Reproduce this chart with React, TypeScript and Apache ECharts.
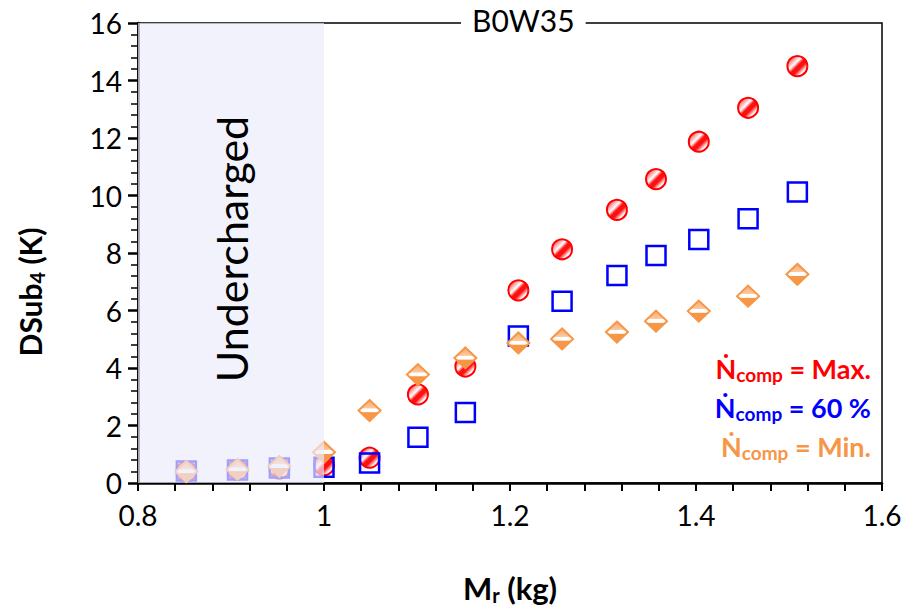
import React, { useEffect, useRef } from "react";
import * as echarts from "echarts";

const massKg = [0.852, 0.907, 0.952, 1.0, 1.049, 1.101, 1.152, 1.209, 1.256, 1.315, 1.357, 1.403, 1.456, 1.509];
const dsubMax = [0.4, 0.45, 0.5, 0.62, 0.88, 3.08, 4.05, 6.7, 8.13, 9.5, 10.57, 11.87, 13.05, 14.5];
const dsub60 = [0.42, 0.45, 0.52, 0.55, 0.7, 1.59, 2.45, 5.11, 6.32, 7.22, 7.91, 8.47, 9.19, 10.12];
const dsubMin = [0.4, 0.47, 0.58, 1.07, 2.52, 3.77, 4.35, 4.87, 5.01, 5.25, 5.63, 5.98, 6.5, 7.26];
const underchargedRange = [0.8, 1.0];
const legendItems = [
  { label: " = Max.", color: "#ff0000" },
  { label: " = 60 %", color: "#0000ff" },
  { label: " = Min.", color: "#f79646" },
];

const FONT = "Lato, 'Open Sans', sans-serif";

export default function App() {
  const ref = useRef<HTMLDivElement>(null);
  useEffect(() => {
    if (!ref.current) return;
    const chart = echarts.init(ref.current, undefined, { renderer: "svg" });
    const pts = (ys: number[]) => massKg.map((x, i) => [x, ys[i]]);
    const red = "#ff0000";
    const orange = "#f79646";
    const legendGraphics: any[] = legendItems.map((it, i) => ({
      type: "text",
      right: 44,
      top: 352 + i * 39,
      style: {
        text: `{n|Ṅ}{s|comp}{n|${it.label}}`,
        fill: it.color,
        font: `bold 27px ${FONT}`,
        rich: {
          n: { fontSize: 27, fontWeight: "bold", fill: it.color, fontFamily: FONT, lineHeight: 32 },
          s: { fontSize: 19, fontWeight: "bold", fill: it.color, fontFamily: FONT, padding: [13, 0, 0, 0], lineHeight: 32 },
        },
      },
      z: 100,
    }));
    legendGraphics.push({
      type: "text",
      x: 30,
      y: 292,
      rotation: Math.PI / 2,
      style: {
        text: "{b|DSub}{s|4}{b| (K)}",
        align: "center",
        verticalAlign: "middle",
        fill: "#000",
        rich: {
          b: { fontSize: 30, fontWeight: "bold", fill: "#000", fontFamily: FONT, lineHeight: 36 },
          s: { fontSize: 20, fontWeight: "bold", fill: "#000", fontFamily: FONT, padding: [14, 0, 0, 0], lineHeight: 36 },
        },
      },
      z: 100,
    });
    chart.setOption({
      animation: false,
      textStyle: { fontFamily: FONT },
      title: {
        text: "B0W35",
        left: 461,
        top: 4,
        padding: [1, 11],
        backgroundColor: "#fff",
        textStyle: { fontSize: 30, fontWeight: "normal", color: "#000", fontFamily: FONT },
        z: 20,
      },
      grid: {
        left: 138,
        right: 33,
        top: 23,
        bottom: 124,
        show: true,
        borderColor: "#000",
        borderWidth: 1.5,
        backgroundColor: "transparent",
      },
      xAxis: {
        type: "value",
        min: 0.8,
        max: 1.6,
        interval: 0.2,
        axisLine: { lineStyle: { color: "#000", width: 2.5 }, onZero: false },
        axisTick: { show: true, length: 8, lineStyle: { color: "#000", width: 2 } },
        minorTick: { show: true, splitNumber: 5, length: 8, lineStyle: { color: "#000", width: 2 } },
        splitLine: { show: false },
        axisLabel: {
          fontSize: 28,
          color: "#000",
          margin: 18,
          fontFamily: FONT,
          formatter: (v: number) => String(parseFloat(v.toFixed(2))),
        },
        name: "{b|M}{s|r}{b| (kg)}",
        nameLocation: "middle",
        nameGap: 88,
        nameTextStyle: {
          rich: {
            b: { fontSize: 31, fontWeight: "bold", color: "#000", fontFamily: FONT },
            s: { fontSize: 20, fontWeight: "bold", color: "#000", fontFamily: FONT, padding: [14, 0, 0, 0] },
          },
        },
      },
      yAxis: {
        type: "value",
        min: 0,
        max: 16,
        interval: 2,
        axisLine: { show: true, lineStyle: { color: "#000", width: 2.5 } },
        axisTick: { show: true, length: 10, lineStyle: { color: "#000", width: 2.5 } },
        minorTick: { show: true, splitNumber: 5, length: 7, lineStyle: { color: "#000", width: 1.5 } },
        splitLine: { show: false },
        axisLabel: { fontSize: 28, color: "#000", margin: 16, fontFamily: FONT },
      },
      graphic: legendGraphics,
      series: [
        {
          name: "Max",
          type: "scatter",
          data: pts(dsubMax),
          symbol: "circle",
          symbolSize: 20,
          z: 2,
          itemStyle: {
            borderColor: red,
            borderWidth: 2,
            opacity: 1,
            color: new echarts.graphic.LinearGradient(0, 0, 1, 1, [
              { offset: 0, color: "#ff2020" },
              { offset: 0.22, color: "#ff9090" },
              { offset: 0.38, color: "#ffffff" },
              { offset: 0.5, color: "#ff1010" },
              { offset: 0.62, color: "#ff1010" },
              { offset: 0.78, color: "#ffffff" },
              { offset: 1, color: "#ffd0d0" },
            ]),
          },
        },
        {
          name: "60",
          type: "scatter",
          data: pts(dsub60),
          symbol: "rect",
          symbolSize: 19,
          z: 3,
          itemStyle: { color: "rgba(255,255,255,0)", borderColor: "#0000ff", borderWidth: 2.5, opacity: 1 },
        },
        {
          name: "Min",
          type: "scatter",
          data: pts(dsubMin),
          symbol: "diamond",
          symbolSize: [22, 21],
          z: 4,
          itemStyle: {
            borderColor: orange,
            borderWidth: 2,
            opacity: 1,
            color: new echarts.graphic.LinearGradient(0, 0, 0, 1, [
              { offset: 0, color: "#f8a870" },
              { offset: 0.38, color: "#fbc9a0" },
              { offset: 0.42, color: "#ffffff" },
              { offset: 0.56, color: "#ffffff" },
              { offset: 0.6, color: "#f79646" },
              { offset: 1, color: "#f79646" },
            ]),
          },
        },
        {
          name: "shade",
          type: "scatter",
          data: [],
          z: 10,
          markArea: {
            silent: true,
            z: 10,
            itemStyle: { color: "rgba(236,236,252,0.68)", borderWidth: 0 },
            label: {
              show: true,
              position: "inside",
              rotate: 90,
              formatter: "Undercharged",
              fontSize: 43,
              color: "#000",
              fontFamily: FONT,
              offset: [4, 0],
            },
            data: [[{ xAxis: underchargedRange[0] }, { xAxis: underchargedRange[1] }]],
          },
        },
      ],
    });
    return () => chart.dispose();
  }, []);
  return <div ref={ref} style={{ width: 915, height: 610, position: "absolute", left: 0, top: 0 }} />;
}
